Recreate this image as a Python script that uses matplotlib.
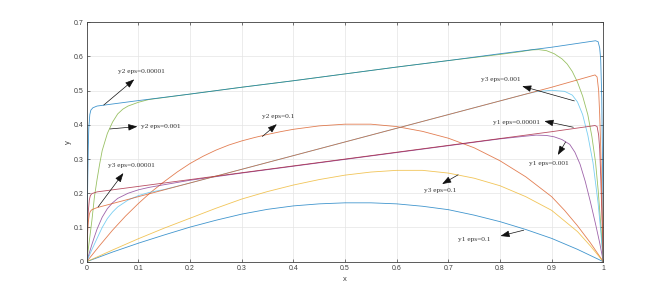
import matplotlib
matplotlib.use("Agg")
import matplotlib.pyplot as plt

# ---------------- data ----------------
x_y1_e1 = [0, 0.05, 0.1, 0.15, 0.2, 0.25, 0.3, 0.35, 0.4, 0.45, 0.5, 0.55, 0.6, 0.65, 0.7, 0.75, 0.8, 0.85, 0.9, 0.95, 1.0]
y_y1_e1 = [0, 0.028, 0.054, 0.078, 0.101, 0.121, 0.139, 0.153, 0.163, 0.169, 0.172, 0.172, 0.169, 0.162, 0.152, 0.136, 0.117, 0.094, 0.068, 0.036, 0]

x_y2_e1 = [0, 0.025, 0.05, 0.075, 0.1, 0.125, 0.15, 0.175, 0.2, 0.225, 0.25, 0.275, 0.3, 0.325, 0.35, 0.375, 0.4, 0.45, 0.5, 0.55, 0.6, 0.65, 0.7, 0.75, 0.8, 0.85, 0.9, 0.925, 0.95, 0.975, 1.0]
y_y2_e1 = [0, 0.047, 0.092, 0.133, 0.17, 0.204, 0.234, 0.262, 0.287, 0.308, 0.326, 0.341, 0.353, 0.363, 0.372, 0.380, 0.387, 0.397, 0.402, 0.402, 0.395, 0.381, 0.361, 0.333, 0.295, 0.248, 0.19, 0.15, 0.105, 0.055, 0]

x_y3_e1 = [0, 0.05, 0.1, 0.15, 0.2, 0.25, 0.3, 0.35, 0.4, 0.45, 0.5, 0.55, 0.6, 0.65, 0.7, 0.75, 0.8, 0.85, 0.9, 0.95, 0.975, 1.0]
y_y3_e1 = [0, 0.034, 0.067, 0.098, 0.127, 0.156, 0.183, 0.205, 0.224, 0.24, 0.253, 0.262, 0.267, 0.267, 0.259, 0.244, 0.222, 0.19, 0.15, 0.088, 0.046, 0]

x_y1_e3 = [0, 0.005, 0.01, 0.015, 0.02, 0.03, 0.04, 0.05, 0.06, 0.08, 0.1, 0.12, 0.15, 0.2, 0.3, 0.4, 0.5, 0.6, 0.7, 0.8, 0.85, 0.87, 0.89, 0.905, 0.92, 0.935, 0.945, 0.955, 0.965, 0.975, 0.985, 0.993, 1.0]
y_y1_e3 = [0, 0.025, 0.05, 0.073, 0.095, 0.13, 0.155, 0.172, 0.185, 0.2, 0.21, 0.217, 0.225, 0.238, 0.259, 0.279, 0.299, 0.319, 0.339, 0.359, 0.367, 0.370, 0.369, 0.365, 0.357, 0.343, 0.32, 0.285, 0.235, 0.175, 0.11, 0.055, 0]

x_y2_e3 = [0, 0.005, 0.01, 0.015, 0.02, 0.025, 0.03, 0.04, 0.05, 0.06, 0.07, 0.08, 0.1, 0.12, 0.15, 0.2, 0.3, 0.4, 0.5, 0.6, 0.7, 0.8, 0.84, 0.86, 0.875, 0.89, 0.905, 0.92, 0.93, 0.94, 0.95, 0.96, 0.97, 0.978, 0.985, 0.99, 0.995, 1.0]
y_y2_e3 = [0, 0.06, 0.12, 0.19, 0.24, 0.285, 0.325, 0.375, 0.408, 0.432, 0.446, 0.455, 0.466, 0.474, 0.48, 0.49, 0.51, 0.529, 0.549, 0.569, 0.588, 0.606, 0.614, 0.619, 0.620, 0.617, 0.608, 0.593, 0.578, 0.556, 0.525, 0.484, 0.43, 0.365, 0.29, 0.21, 0.11, 0]

x_y3_e3 = [0, 0.01, 0.02, 0.03, 0.04, 0.05, 0.06, 0.08, 0.1, 0.12, 0.15, 0.2, 0.3, 0.4, 0.5, 0.6, 0.7, 0.8, 0.85, 0.87, 0.9, 0.925, 0.94, 0.95, 0.96, 0.97, 0.98, 0.99, 0.995, 1.0]
y_y3_e3 = [0, 0.035, 0.068, 0.10, 0.126, 0.145, 0.16, 0.18, 0.193, 0.202, 0.211, 0.23, 0.27, 0.31, 0.35, 0.39, 0.43, 0.47, 0.49, 0.497, 0.501, 0.498, 0.487, 0.467, 0.43, 0.37, 0.29, 0.17, 0.09, 0]

x_y1_e5 = [0, 0.001, 0.002, 0.003, 0.005, 0.007, 0.01, 0.02, 0.1, 0.2, 0.3, 0.4, 0.5, 0.6, 0.7, 0.8, 0.9, 0.984, 0.988, 0.991, 0.993, 0.995, 0.997, 0.999, 1.0]
y_y1_e5 = [0, 0.06, 0.11, 0.145, 0.18, 0.193, 0.199, 0.204, 0.22, 0.24, 0.26, 0.28, 0.30, 0.32, 0.34, 0.36, 0.38, 0.398, 0.395, 0.37, 0.33, 0.25, 0.15, 0.05, 0]

x_y2_e5 = [0, 0.001, 0.002, 0.003, 0.004, 0.006, 0.008, 0.012, 0.02, 0.1, 0.2, 0.3, 0.4, 0.5, 0.6, 0.7, 0.8, 0.9, 0.985, 0.99, 0.993, 0.995, 0.997, 0.999, 1.0]
y_y2_e5 = [0, 0.12, 0.24, 0.33, 0.39, 0.43, 0.443, 0.45, 0.455, 0.471, 0.49, 0.51, 0.529, 0.549, 0.569, 0.588, 0.608, 0.627, 0.646, 0.643, 0.625, 0.59, 0.48, 0.22, 0]

x_y3_e5 = [0, 0.001, 0.002, 0.003, 0.005, 0.007, 0.01, 0.02, 0.1, 0.2, 0.3, 0.4, 0.5, 0.6, 0.7, 0.8, 0.9, 0.984, 0.988, 0.991, 0.993, 0.995, 0.997, 0.999, 1.0]
y_y3_e5 = [0, 0.05, 0.09, 0.115, 0.138, 0.147, 0.152, 0.158, 0.19, 0.23, 0.27, 0.31, 0.35, 0.39, 0.43, 0.47, 0.51, 0.546, 0.54, 0.5, 0.43, 0.33, 0.2, 0.07, 0]

x_ticks = [0, 0.1, 0.2, 0.3, 0.4, 0.5, 0.6, 0.7, 0.8, 0.9, 1]
x_tick_labels = ["0", "0.1", "0.2", "0.3", "0.4", "0.5", "0.6", "0.7", "0.8", "0.9", "1"]
y_ticks = [0, 0.1, 0.2, 0.3, 0.4, 0.5, 0.6, 0.7]
y_tick_labels = ["0", "0.1", "0.2", "0.3", "0.4", "0.5", "0.6", "0.7"]

# annotations: label, text position, arrow tail, arrow head
ann_labels = ["y2 eps=0.00001", "y2 eps=0.001", "y3 eps=0.00001", "y2 eps=0.1", "y3 eps=0.1",
              "y1 eps=0.1", "y3 eps=0.001", "y1 eps=0.00001", "y1 eps=0.001"]
ann_text_xy = [(0.061, 0.555), (0.106, 0.396), (0.041, 0.281), (0.340, 0.423), (0.652, 0.207),
               (0.719, 0.064), (0.764, 0.533), (0.787, 0.408), (0.857, 0.288)]
ann_tail = [(0.033, 0.458), (0.045, 0.388), (0.022, 0.160), (0.340, 0.366), (0.719, 0.254),
            (0.846, 0.092), (0.944, 0.470), (0.942, 0.393), (0.927, 0.350)]
ann_head = [(0.092, 0.533), (0.098, 0.395), (0.071, 0.259), (0.368, 0.402), (0.688, 0.227),
            (0.801, 0.075), (0.843, 0.513), (0.886, 0.411), (0.912, 0.312)]

# ---------------- plotting ----------------
c_blue = (0, 0.447, 0.741)
c_orange = (0.85, 0.325, 0.098)
c_yellow = (0.929, 0.694, 0.125)
c_purple = (0.494, 0.184, 0.556)
c_green = (0.466, 0.674, 0.188)
c_lblue = (0.301, 0.745, 0.933)
c_dred = (0.635, 0.078, 0.184)

series = [
    (x_y1_e1, y_y1_e1, c_blue),
    (x_y2_e1, y_y2_e1, c_orange),
    (x_y3_e1, y_y3_e1, c_yellow),
    (x_y1_e3, y_y1_e3, c_purple),
    (x_y2_e3, y_y2_e3, c_green),
    (x_y3_e3, y_y3_e3, c_lblue),
    (x_y1_e5, y_y1_e5, c_dred),
    (x_y2_e5, y_y2_e5, c_blue),
    (x_y3_e5, y_y3_e5, c_orange),
]

fig = plt.figure(figsize=(6.67, 2.93), dpi=100)
ax = fig.add_axes([0.13, 0.107, 0.7745, 0.817])

for xs, ys, col in series:
    ax.plot(xs, ys, color=col, lw=0.6, alpha=0.75, solid_joinstyle='round')

ax.set_xlim(0, 1)
ax.set_ylim(0, 0.7)
ax.set_xticks(x_ticks)
ax.set_xticklabels(x_tick_labels)
ax.set_yticks(y_ticks)
ax.set_yticklabels(y_tick_labels)

axcol = '#404040'
for sp in ax.spines.values():
    sp.set_color(axcol)
    sp.set_linewidth(0.6)
ax.tick_params(direction='in', length=2.5, width=0.5, colors=axcol, labelsize=5,
               top=True, right=True, pad=2.5)
for lab in ax.get_xticklabels() + ax.get_yticklabels():
    lab.set_fontfamily('Liberation Sans')
ax.grid(True, color='#e4e4e4', lw=0.5)
ax.set_axisbelow(True)

ax.set_xlabel('x', fontsize=5.5, color=axcol, family='Liberation Sans', labelpad=3)
ax.set_ylabel('y', fontsize=5.5, color=axcol, family='Liberation Sans', labelpad=1)

for lab, txy, tail, head in zip(ann_labels, ann_text_xy, ann_tail, ann_head):
    ax.text(txy[0], txy[1], lab, fontsize=5.3, family='Liberation Serif', color='#333333',
            ha='left', va='center')
    ax.annotate('', xy=head, xytext=tail,
                arrowprops=dict(arrowstyle='-|>,head_length=0.55,head_width=0.2',
                                color='#111111', lw=0.5, shrinkA=0, shrinkB=0,
                                mutation_scale=10))

fig.savefig('out.png', dpi=100)
